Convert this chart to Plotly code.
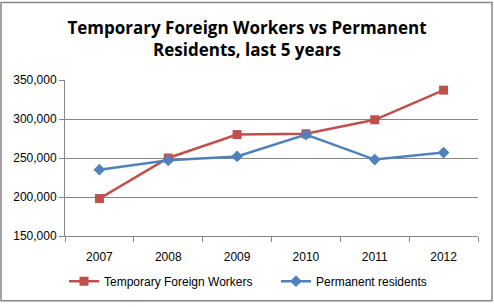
import plotly.graph_objects as go

years = ["2007", "2008", "2009", "2010", "2011", "2012"]
tfw = [198000, 250000, 280000, 281000, 299000, 337000]
pr = [235000, 247000, 252000, 280000, 248000, 257000]
yticks = [150000, 200000, 250000, 300000, 350000]
ytext = ["150,000", "200,000", "250,000", "300,000", "350,000"]

W, H = 494, 307
L, R, T, B = 65, 16, 80, 68
pw, ph = W - L - R, H - T - B

fig = go.Figure()
fig.add_trace(go.Scatter(x=years, y=tfw, name="Temporary Foreign Workers",
                         mode="lines+markers",
                         line=dict(color="#C0504D", width=2.5),
                         marker=dict(symbol="square", size=9, color="#C0504D")))
fig.add_trace(go.Scatter(x=years, y=pr, name="Permanent residents",
                         mode="lines+markers",
                         line=dict(color="#4F81BD", width=2.5),
                         marker=dict(symbol="diamond", size=9, color="#4F81BD")))

fig.update_layout(
    width=W, height=H,
    margin=dict(l=L, r=R, t=T, b=B),
    paper_bgcolor="white", plot_bgcolor="white",
    font=dict(family="Liberation Sans, Arial", size=12, color="#000"),
    title=dict(text="<b>Temporary Foreign Workers vs Permanent<br>Residents, last 5 years</b>",
               x=0.5, xanchor="center", y=1 - 34 / H, yanchor="middle",
               font=dict(size=17, family="Open Sans, Liberation Sans")),
    showlegend=True,
    legend=dict(orientation="h", x=(64 - L) / pw, xanchor="left",
                y=-(285 - T - ph) / ph, yanchor="middle",
                font=dict(size=12), itemwidth=30, entrywidth=167,
                bgcolor="rgba(0,0,0,0)"),
    xaxis=dict(type="category", range=[-0.5, 5.5], showline=True, linecolor="#868686",
               ticks="outside", tickson="boundaries", ticklen=5, tickcolor="#868686",
               showgrid=False, tickfont=dict(size=12), ticklabelstandoff=10),
    yaxis=dict(range=[150000, 350000], tickvals=yticks, ticktext=ytext,
               showline=True, linecolor="#868686", ticks="outside", ticklen=5,
               tickcolor="#868686", showgrid=True, gridcolor="#868686", gridwidth=1,
               zeroline=False, tickfont=dict(size=12)),
)

fig.add_shape(type="rect", xref="paper", yref="paper",
              x0=(1 - L) / pw, x1=(W - 2 - L) / pw,
              y0=-(H - 2 - T - ph) / ph, y1=1 + (T - 1) / ph,
              line=dict(color="#868686", width=1.5), layer="below")

fig.write_html("out.html")
